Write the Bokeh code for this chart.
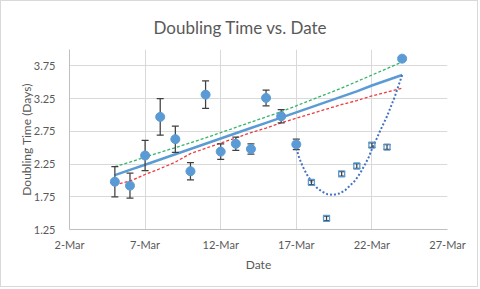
from bokeh.plotting import figure
from bokeh.models import Range1d, FixedTicker
from bokeh.embed import file_html
from bokeh.resources import INLINE

# x values are days of March
obs_days = [5, 6, 7, 8, 9, 10, 11, 12, 13, 14, 15, 16, 17, 24]
obs_values = [1.98, 1.92, 2.38, 2.97, 2.63, 2.14, 3.31, 2.44, 2.56, 2.48, 3.26, 2.98, 2.55, 3.86]
obs_errors = [0.23, 0.19, 0.23, 0.28, 0.20, 0.13, 0.21, 0.12, 0.10, 0.08, 0.12, 0.10, 0.08, 0.03]

open_days = [18, 19, 20, 21, 22, 23]
open_values = [1.97, 1.42, 2.10, 2.22, 2.54, 2.51]
open_errors = [0.035, 0.035, 0.035, 0.035, 0.035, 0.035]

fit_days = [5, 6, 7, 8, 9, 10, 11, 12, 13, 14, 15, 16, 17, 18, 19, 20, 21, 22, 23, 24]
fit_values = [2.08, 2.16, 2.24, 2.32, 2.40, 2.48, 2.56, 2.64, 2.72, 2.80, 2.88, 2.96, 3.04,
              3.12, 3.20, 3.28, 3.36, 3.45, 3.53, 3.61]
upper_values = [2.21, 2.28, 2.355, 2.43, 2.50, 2.575, 2.65, 2.73, 2.81, 2.89, 2.97, 3.05, 3.14,
                3.23, 3.32, 3.41, 3.51, 3.61, 3.71, 3.81]
lower_values = [1.93, 1.99, 2.09, 2.18, 2.28, 2.41, 2.49, 2.57, 2.65, 2.73, 2.80, 2.88, 2.95,
                3.02, 3.09, 3.16, 3.22, 3.29, 3.35, 3.41]

curve_days = [17.0, 17.2, 17.41, 17.7, 18.03, 18.35, 18.69, 19.05, 19.46, 19.85, 20.23, 20.55,
              20.9, 21.25, 21.56, 21.8, 22.0, 22.3, 22.55, 23.0, 23.5, 24.0]
curve_values = [2.49, 2.34, 2.22, 2.09, 1.97, 1.89, 1.83, 1.79, 1.78, 1.80, 1.85, 1.92,
                2.00, 2.12, 2.25, 2.36, 2.48, 2.63, 2.76, 2.98, 3.27, 3.61]

tick_days = [2, 7, 12, 17, 22, 27]
tick_labels = ["2-Mar", "7-Mar", "12-Mar", "17-Mar", "22-Mar", "27-Mar"]
y_ticks = [1.25, 1.75, 2.25, 2.75, 3.25, 3.75]

FONT = "Lato"
TXT = "#595959"
BLUE = "#5B9BD5"
BAR = "#404040"

p = figure(width=478, height=287, output_backend="svg", toolbar_location=None,
           x_range=Range1d(2, 27), y_range=Range1d(1.25, 4.0),
           min_border_left=68, min_border_right=32, min_border_top=48, min_border_bottom=59)
p.styles = {"border": "1px solid #D9D9D9"}
p.outline_line_color = None
p.background_fill_color = "white"
p.border_fill_color = "white"

p.title.text = "Doubling Time vs. Date"
p.title.align = "left"
p.title.offset = 84
p.title.text_font = FONT
p.title.text_font_size = "17px"
p.title.text_font_style = "normal"
p.title.text_color = TXT
p.title.standoff = 24

for ax in (p.xaxis[0], p.yaxis[0]):
    ax.axis_line_color = "#BFBFBF"
    ax.major_tick_line_color = None
    ax.minor_tick_line_color = None
    ax.major_label_text_font = FONT
    ax.major_label_text_font_size = "11px"
    ax.major_label_text_color = TXT
    ax.axis_label_text_font = FONT
    ax.axis_label_text_font_size = "12px"
    ax.axis_label_text_font_style = "normal"
    ax.axis_label_text_color = TXT

p.xaxis.ticker = FixedTicker(ticks=tick_days)
p.xaxis.major_label_overrides = {float(d): l for d, l in zip(tick_days, tick_labels)}
p.xaxis.major_label_standoff = 2
p.xaxis.axis_label = "Date"
p.xaxis.axis_label_standoff = 3

p.yaxis.ticker = FixedTicker(ticks=y_ticks)
p.yaxis.major_label_standoff = 8
p.yaxis.axis_label = "Doubling Time (Days)"
p.yaxis.axis_label_standoff = -3

p.grid.grid_line_color = "#D9D9D9"
p.grid.grid_line_width = 1

# trend lines
p.line(fit_days, upper_values, line_color="#33B56A", line_width=1.3, line_dash="3 2")
p.line(fit_days, lower_values, line_color="#F03C3C", line_width=1.3, line_dash="3 2")
p.line(fit_days, fit_values, line_color=BLUE, line_width=2.5)
p.line(curve_days, curve_values, line_color="#4472C4", line_width=2, line_dash="2 2")

# error bars
all_days = obs_days + open_days
all_vals = obs_values + open_values
all_errs = obs_errors + open_errors
lo = [v - e for v, e in zip(all_vals, all_errs)]
hi = [v + e for v, e in zip(all_vals, all_errs)]
p.segment(x0=all_days, y0=lo, x1=all_days, y1=hi, line_color=BAR, line_width=1.25)
p.scatter(all_days, lo, marker="dash", size=7, line_color=BAR, line_width=1.25)
p.scatter(all_days, hi, marker="dash", size=7, line_color=BAR, line_width=1.25)

# markers
p.scatter(open_days, open_values, marker="square", size=6, fill_alpha=0,
          line_color=BLUE, line_width=1.3)
p.scatter(obs_days, obs_values, marker="circle", size=9, fill_color=BLUE, line_color=BLUE)

open("out.html", "w").write(file_html(p, INLINE))
